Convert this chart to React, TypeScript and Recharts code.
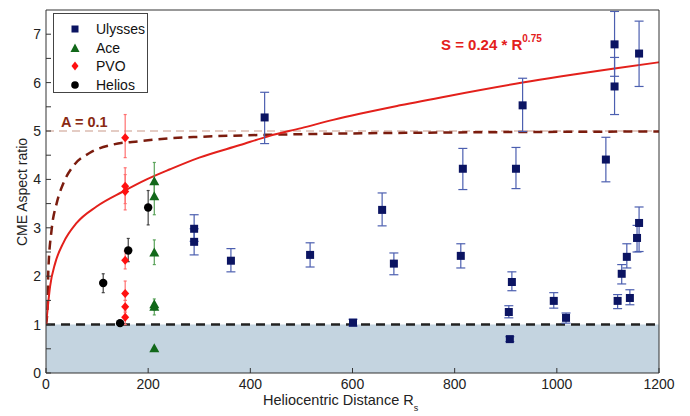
import React from 'react';
import {
  ComposedChart,
  Scatter,
  Line,
  XAxis,
  YAxis,
  ErrorBar,
  ReferenceArea,
  ReferenceLine,
} from 'recharts';

const FONT = '"Liberation Sans", Arial, sans-serif';

// axis ticks
const xTicks = [0, 200, 400, 600, 800, 1000, 1200];
const yTicks = [0, 0.5, 1, 1.5, 2, 2.5, 3, 3.5, 4, 4.5, 5, 5.5, 6, 6.5, 7];

// measurements: distance (Rs), aspect ratio, error bar low / high
const ulysses = [
  { x: 290, y: 2.98, lo: 2.72, hi: 3.27 },
  { x: 290, y: 2.71, lo: 2.44, hi: 2.98 },
  { x: 362, y: 2.32, lo: 2.09, hi: 2.57 },
  { x: 428, y: 5.28, lo: 4.74, hi: 5.8 },
  { x: 517, y: 2.44, lo: 2.19, hi: 2.69 },
  { x: 601, y: 1.04, lo: 0.97, hi: 1.11 },
  { x: 658, y: 3.37, lo: 3.04, hi: 3.72 },
  { x: 681, y: 2.26, lo: 2.03, hi: 2.48 },
  { x: 812, y: 2.42, lo: 2.17, hi: 2.67 },
  { x: 816, y: 4.22, lo: 3.79, hi: 4.64 },
  { x: 906, y: 1.26, lo: 1.14, hi: 1.39 },
  { x: 908, y: 0.7, lo: 0.65, hi: 0.75 },
  { x: 912, y: 1.88, lo: 1.7, hi: 2.09 },
  { x: 920, y: 4.22, lo: 3.81, hi: 4.66 },
  { x: 933, y: 5.53, lo: 4.99, hi: 6.09 },
  { x: 994, y: 1.49, lo: 1.34, hi: 1.66 },
  { x: 1018, y: 1.14, lo: 1.03, hi: 1.24 },
  { x: 1096, y: 4.41, lo: 3.95, hi: 4.87 },
  { x: 1113, y: 6.79, lo: 6.13, hi: 7.47 },
  { x: 1113, y: 5.92, lo: 5.34, hi: 6.52 },
  { x: 1119, y: 1.49, lo: 1.33, hi: 1.62 },
  { x: 1127, y: 2.05, lo: 1.84, hi: 2.24 },
  { x: 1137, y: 2.4, lo: 2.17, hi: 2.67 },
  { x: 1143, y: 1.55, lo: 1.41, hi: 1.72 },
  { x: 1157, y: 2.79, lo: 2.5, hi: 3.05 },
  { x: 1161, y: 3.1, lo: 2.51, hi: 3.43 },
  { x: 1161, y: 6.6, lo: 5.92, hi: 7.27 },
];

const ace = [
  { x: 212, y: 3.96, lo: 3.6, hi: 4.35 },
  { x: 212, y: 3.65, lo: 3.27, hi: 3.96 },
  { x: 212, y: 2.49, lo: 2.24, hi: 2.75 },
  { x: 212, y: 1.42, lo: 1.3, hi: 1.53 },
  { x: 212, y: 1.37, lo: 1.2, hi: 1.45 },
  { x: 212, y: 0.51, lo: 0.51, hi: 0.51 },
];

const pvo = [
  { x: 155, y: 4.86, lo: 4.45, hi: 5.34 },
  { x: 155, y: 3.86, lo: 3.5, hi: 4.24 },
  { x: 155, y: 3.75, lo: 3.37, hi: 4.1 },
  { x: 155, y: 2.33, lo: 2.15, hi: 2.52 },
  { x: 155, y: 1.64, lo: 1.5, hi: 1.9 },
  { x: 155, y: 1.37, lo: 1.25, hi: 1.5 },
  { x: 155, y: 1.15, lo: 1.0, hi: 1.28 },
];

const helios = [
  { x: 145, y: 1.03, lo: 0.97, hi: 1.08 },
  { x: 112, y: 1.86, lo: 1.66, hi: 2.05 },
  { x: 161, y: 2.53, lo: 2.3, hi: 2.78 },
  { x: 200, y: 3.42, lo: 3.06, hi: 3.77 },
];

// fitted curves
const fitS = [
  { x: 0, y: 1.0 }, { x: 1, y: 1.1 }, { x: 8, y: 1.79 }, { x: 18, y: 2.27 },
  { x: 34, y: 2.69 }, { x: 60, y: 3.1 }, { x: 99, y: 3.44 }, { x: 151, y: 3.75 },
  { x: 197, y: 4.0 }, { x: 243, y: 4.21 }, { x: 300, y: 4.45 }, { x: 380, y: 4.71 },
  { x: 438, y: 4.9 }, { x: 500, y: 5.06 }, { x: 562, y: 5.23 }, { x: 693, y: 5.53 },
  { x: 791, y: 5.73 }, { x: 933, y: 6.0 }, { x: 1113, y: 6.29 }, { x: 1200, y: 6.42 },
];

const fitA = [
  { x: 0, y: 1.0 }, { x: 3, y: 1.35 }, { x: 4.5, y: 2.1 }, { x: 11, y: 2.96 },
  { x: 21, y: 3.51 }, { x: 34, y: 3.92 }, { x: 53, y: 4.27 }, { x: 86, y: 4.55 },
  { x: 131, y: 4.72 }, { x: 184, y: 4.79 }, { x: 243, y: 4.85 }, { x: 301, y: 4.88 },
  { x: 430, y: 4.92 }, { x: 600, y: 4.95 }, { x: 800, y: 4.97 }, { x: 1200, y: 4.99 },
];

const withErr = (rows: { x: number; y: number; lo: number; hi: number }[]) =>
  rows.map(r => ({ x: r.x, y: r.y, err: [r.y - r.lo, r.hi - r.y] }));

const AXIS = '#333';

// inward ticks, labels only on whole numbers
const LeftTick = (p: any) => {
  const v = p.payload.value;
  return (
    <g>
      <line x1={p.x} x2={p.x + 5} y1={p.y} y2={p.y} stroke={AXIS} />
      {Number.isInteger(v) && (
        <text x={p.x - 5} y={p.y + 5} textAnchor="end" fontSize={14} fontFamily={FONT} fill="#222">
          {v}
        </text>
      )}
    </g>
  );
};
const RightTick = (p: any) => (
  <line x1={p.x} x2={p.x - 5} y1={p.y} y2={p.y} stroke={AXIS} />
);
const BottomTick = (p: any) => (
  <g>
    <line x1={p.x} x2={p.x} y1={p.y} y2={p.y - 5} stroke={AXIS} />
    <text x={p.x} y={p.y + 16} textAnchor="middle" fontSize={14} fontFamily={FONT} fill="#222">
      {p.payload.value}
    </text>
  </g>
);
const TopTick = (p: any) => (
  <line x1={p.x} x2={p.x} y1={p.y} y2={p.y + 5} stroke={AXIS} />
);

const square = (p: any) => <rect x={p.cx - 4} y={p.cy - 4} width={8} height={8} fill="#0b1462" />;
const triangle = (p: any) => (
  <polygon points={`${p.cx},${p.cy - 5} ${p.cx - 5},${p.cy + 4} ${p.cx + 5},${p.cy + 4}`} fill="#12681a" />
);
const diamond = (p: any) => (
  <polygon points={`${p.cx},${p.cy - 4.5} ${p.cx + 4},${p.cy} ${p.cx},${p.cy + 4.5} ${p.cx - 4},${p.cy}`} fill="#ff1010" />
);
const dot = (p: any) => <circle cx={p.cx} cy={p.cy} r={4.2} fill="#000" />;

const legendItems = [
  { name: 'Ulysses', shape: 'square', color: '#0b1462' },
  { name: 'Ace', shape: 'triangle', color: '#12681a' },
  { name: 'PVO', shape: 'diamond', color: '#ff1010' },
  { name: 'Helios', shape: 'circle', color: '#000' },
];

function Marker({ shape, color }: { shape: string; color: string }) {
  return (
    <svg width={12} height={12} style={{ display: 'block' }}>
      {shape === 'square' && <rect x={2.5} y={2.5} width={7} height={7} fill={color} />}
      {shape === 'triangle' && <polygon points="6,1.5 1.5,10 10.5,10" fill={color} />}
      {shape === 'diamond' && <polygon points="6,1.5 9.5,6 6,10.5 2.5,6" fill={color} />}
      {shape === 'circle' && <circle cx={6} cy={6} r={3.8} fill={color} />}
    </svg>
  );
}

export default function App() {
  return (
    <div style={{ position: 'absolute', left: 0, top: 0, width: 690, height: 416, background: '#fff', fontFamily: FONT }}>
      <ComposedChart width={690} height={416} margin={{ top: 0, right: 0, bottom: 0, left: 0 }}>
        <XAxis
          dataKey="x"
          type="number"
          domain={[0, 1200]}
          ticks={xTicks}
          interval={0}
          allowDataOverflow
          height={43}
          tickSize={0}
          tickMargin={0}
          tick={BottomTick}
          axisLine={{ stroke: AXIS }}
        />
        <XAxis
          xAxisId="top"
          orientation="top"
          type="number"
          domain={[0, 1200]}
          ticks={xTicks}
          interval={0}
          height={10}
          tickSize={0}
          tickMargin={0}
          tick={TopTick}
          axisLine={{ stroke: AXIS }}
        />
        <YAxis
          dataKey="y"
          type="number"
          domain={[0, 7.5]}
          ticks={yTicks}
          interval={0}
          allowDataOverflow
          width={46}
          tickSize={0}
          tickMargin={0}
          tick={LeftTick}
          axisLine={{ stroke: AXIS }}
        />
        <YAxis
          yAxisId="right"
          orientation="right"
          type="number"
          domain={[0, 7.5]}
          ticks={yTicks}
          interval={0}
          width={31}
          tickSize={0}
          tickMargin={0}
          tick={RightTick}
          axisLine={{ stroke: AXIS }}
        />

        <ReferenceArea x1={0} x2={1200} y1={0} y2={1} fill="#c4d4e0" fillOpacity={1} stroke="none" />
        <ReferenceLine y={5} stroke="#c99a8a" strokeWidth={1.2} strokeDasharray="8 5" />
        <ReferenceLine y={1} stroke="#222" strokeWidth={2.5} strokeDasharray="9 6" />

        <Line data={fitA} dataKey="y" type="monotone" stroke="#7b1c0e" strokeWidth={2.5} strokeDasharray="9 6" dot={false} isAnimationActive={false} />
        <Line data={fitS} dataKey="y" type="monotone" stroke="#e3201b" strokeWidth={2} dot={false} isAnimationActive={false} />

        <Scatter data={withErr(ulysses)} dataKey="y" shape={square} isAnimationActive={false}>
          <ErrorBar dataKey="err" direction="y" width={4.5} stroke="#4c5fb0" strokeWidth={1.2} />
        </Scatter>
        <Scatter data={withErr(ace)} dataKey="y" shape={triangle} isAnimationActive={false}>
          <ErrorBar dataKey="err" direction="y" width={1.5} stroke="#5aa35a" strokeWidth={1.2} />
        </Scatter>
        <Scatter data={withErr(pvo)} dataKey="y" shape={diamond} isAnimationActive={false}>
          <ErrorBar dataKey="err" direction="y" width={1.5} stroke="#ff7070" strokeWidth={1.2} />
        </Scatter>
        <Scatter data={withErr(helios)} dataKey="y" shape={dot} isAnimationActive={false}>
          <ErrorBar dataKey="err" direction="y" width={1.5} stroke="#444" strokeWidth={1.2} />
        </Scatter>
      </ComposedChart>

      {/* legend */}
      <div
        style={{
          position: 'absolute', left: 53, top: 13, width: 95, height: 80,
          border: '1px solid #444', background: '#fff', boxSizing: 'border-box',
          paddingTop: 6,
        }}
      >
        {legendItems.map(it => (
          <div key={it.name} style={{ display: 'flex', alignItems: 'center', height: 18.5 }}>
            <div style={{ width: 42, display: 'flex', justifyContent: 'center' }}>
              <Marker shape={it.shape} color={it.color} />
            </div>
            <span style={{ fontSize: 14, color: '#111' }}>{it.name}</span>
          </div>
        ))}
      </div>

      {/* annotations */}
      <div style={{ position: 'absolute', left: 441, top: 36, color: '#e3201b', fontWeight: 'bold', fontSize: 15, whiteSpace: 'nowrap' }}>
        S = 0.24 * R<sup style={{ fontSize: 10, verticalAlign: 'top', position: 'relative', top: -3 }}>0.75</sup>
      </div>
      <div style={{ position: 'absolute', left: 61, top: 114, color: '#8a2a12', fontWeight: 'bold', fontSize: 14.5, whiteSpace: 'nowrap' }}>
        A = 0.1
      </div>

      {/* axis titles */}
      <div style={{ position: 'absolute', left: 263, top: 393, fontSize: 14.5, lineHeight: '15px', color: '#222', whiteSpace: 'nowrap' }}>
        Heliocentric Distance R<sub style={{ fontSize: 9, lineHeight: '9px', position: 'relative', top: 2 }}>s</sub>
      </div>
      <div
        style={{
          position: 'absolute', left: 22, top: 192, fontSize: 14, color: '#222', whiteSpace: 'nowrap',
          transform: 'translate(-50%, -50%) rotate(-90deg)',
        }}
      >
        CME Aspect ratio
      </div>
    </div>
  );
}
